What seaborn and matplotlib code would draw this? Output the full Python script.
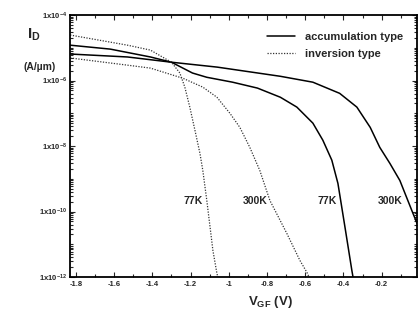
import numpy as np
import pandas as pd
import matplotlib
matplotlib.use("Agg")
import matplotlib.pyplot as plt
from matplotlib.ticker import FixedLocator, LogLocator, NullFormatter, MultipleLocator
from matplotlib.lines import Line2D
import seaborn as sns

# gate voltage (V) and log10 of drain current (A/um)
acc77_v = [-1.83, -1.62, -1.41, -1.30, -1.19, -1.115, -0.98, -0.85, -0.73, -0.644, -0.56, -0.508,
           -0.461, -0.429, -0.392, -0.356, -0.35]
acc77_log = [-4.92, -5.04, -5.28, -5.44, -5.77, -5.90, -6.05, -6.23, -6.51, -6.81, -7.30, -7.82,
             -8.43, -9.14, -10.48, -11.80, -12.0]

acc300_v = [-1.83, -1.53, -1.30, -1.06, -0.73, -0.56, -0.42, -0.33, -0.26, -0.21, -0.157,
            -0.105, -0.036, -0.015]
acc300_log = [-5.19, -5.28, -5.44, -5.59, -5.87, -6.05, -6.39, -6.81, -7.43, -8.04, -8.53,
              -9.05, -10.06, -10.36]

inv77_v = [-1.83, -1.53, -1.41, -1.30, -1.256, -1.23, -1.204, -1.177, -1.151, -1.136, -1.115,
           -1.083, -1.062, -1.057]
inv77_log = [-4.61, -4.92, -5.07, -5.44, -5.77, -6.20, -6.81, -7.52, -8.22, -8.74, -9.66,
             -11.19, -11.89, -12.0]

inv300_v = [-1.83, -1.53, -1.41, -1.24, -1.136, -1.062, -0.994, -0.942, -0.89, -0.838, -0.785,
            -0.696, -0.628, -0.591, -0.58]
inv300_log = [-5.31, -5.53, -5.62, -5.93, -6.20, -6.51, -7.00, -7.43, -8.04, -8.74, -9.66,
              -10.67, -11.49, -11.86, -12.0]

temp_labels = ["77K", "300K", "77K", "300K"]
temp_label_v = [-1.188, -0.863, -0.486, -0.157]
temp_label_log = -9.69

y_tick_exp = [-4, -6, -8, -10, -12]
x_ticks = [-1.8, -1.6, -1.4, -1.2, -1, -0.8, -0.6, -0.4, -0.2]
x_tick_labels = ["-1.8", "-1.6", "-1.4", "-1.2", "-1", "-0.8", "-0.6", "-0.4", "-0.2"]

sns.set_style("ticks")
plt.rcParams["font.family"] = ["Liberation Sans", "DejaVu Sans"]
plt.rcParams["font.weight"] = "bold"
plt.rcParams["mathtext.fontset"] = "custom"
plt.rcParams["mathtext.rm"] = "Liberation Sans:bold"
plt.rcParams["mathtext.default"] = "rm"

fig = plt.figure(figsize=(4.2, 3.2), dpi=100)
ax = fig.add_axes([0.167, 0.134, 0.826, 0.819])

solid = "-"
dotted = (0, (1, 1.2))
curves = [
    (acc77_v, acc77_log, solid, 1.1, "black"),
    (acc300_v, acc300_log, solid, 1.1, "black"),
    (inv77_v, inv77_log, dotted, 0.9, "#333333"),
    (inv300_v, inv300_log, dotted, 0.9, "#333333"),
]
for v, lg, ls, lw, col in curves:
    df = pd.DataFrame({"V": v, "I": 10.0 ** np.array(lg)})
    sns.lineplot(data=df, x="V", y="I", ax=ax, color=col, linewidth=lw,
                 linestyle=ls, sort=False, estimator=None)

ax.set_yscale("log")
ax.set_xlim(-1.83, -0.015)
ax.set_ylim(1e-12, 1e-4)

ax.yaxis.set_major_locator(FixedLocator([10.0 ** e for e in y_tick_exp]))
ax.set_yticklabels(["1x10$^{%d}$" % e for e in y_tick_exp])
ax.yaxis.set_minor_locator(LogLocator(base=10, subs=np.arange(1, 10) / 1.0, numticks=40))
ax.yaxis.set_minor_formatter(NullFormatter())
ax.set_xticks(x_ticks)
ax.set_xticklabels(x_tick_labels)
ax.xaxis.set_minor_locator(MultipleLocator(0.1))

ax.tick_params(which="both", direction="in", top=True, right=True, labelsize=5.5, width=0.8)
ax.tick_params(which="major", length=3.5, pad=2.5)
ax.tick_params(which="minor", length=2)
for s in ax.spines.values():
    s.set_linewidth(1.3)
    s.set_color("black")

ax.set_xlabel("")
ax.set_ylabel("")

for lab, v in zip(temp_labels, temp_label_v):
    ax.text(v, 10.0 ** temp_label_log, lab, ha="center", va="center",
            fontsize=7.5, fontweight="bold")

fig.text(0.08, 0.89, "I$_{\\mathregular{D}}$", fontsize=11, ha="center", va="center")
fig.text(0.095, 0.79, "(A/\u00b5m)", fontsize=7.5, ha="center", va="center", fontweight="bold")
fig.text(0.645, 0.055, "V$_{\\mathregular{GF}}$ (V)", fontsize=9.5, ha="center", va="center")

handles = [Line2D([], [], color="black", lw=1.1, ls=solid),
           Line2D([], [], color="#333333", lw=0.9, ls=dotted)]
ax.legend(handles, ["accumulation type", "inversion type"], loc="upper left",
          bbox_to_anchor=(0.54, 0.975), frameon=False, fontsize=8,
          handlelength=2.5, handletextpad=0.9, labelspacing=0.7)

fig.savefig("out.png", dpi=100)
